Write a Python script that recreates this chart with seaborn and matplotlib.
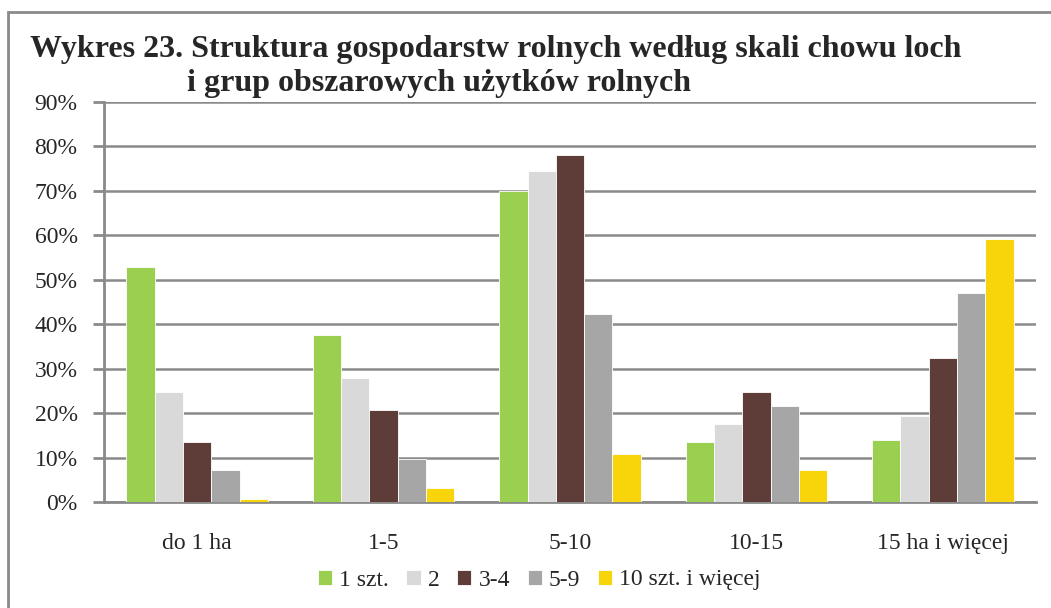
import pandas as pd
import matplotlib.pyplot as plt
import seaborn as sns
from matplotlib.patches import Rectangle
from matplotlib.ticker import FuncFormatter

# dane (udzial gospodarstw w %)
grupy = ["do 1 ha", "1-5", "5-10", "10-15", "15 ha i więcej"]
skala_chowu = ["1 szt.", "2", "3-4", "5-9", "10 szt. i więcej"]
szt_1 = [52.8, 37.6, 70.0, 13.5, 14.0]
szt_2 = [24.7, 27.8, 74.4, 17.5, 19.4]
szt_3_4 = [13.5, 20.6, 78.0, 24.7, 32.4]
szt_5_9 = [7.3, 9.6, 42.2, 21.7, 47.1]
szt_10 = [0.6, 3.2, 10.9, 7.3, 59.2]
kolory = ["#9BCF50", "#D9D9D9", "#5E3C38", "#A6A6A6", "#F7D50A"]

wartosci = [szt_1, szt_2, szt_3_4, szt_5_9, szt_10]
df = pd.DataFrame(
    [(g, s, v) for s, vals in zip(skala_chowu, wartosci) for g, v in zip(grupy, vals)],
    columns=["grupa", "chow", "udzial"],
)

sns.set_style("white")
plt.rcParams["font.family"] = ["Liberation Serif", "DejaVu Serif"]

fig = plt.figure(figsize=(10.51, 6.08), dpi=100)
ax = fig.add_axes([104 / 1051, 106 / 608, 932 / 1051, 400 / 608])

sns.barplot(data=df, x="grupa", y="udzial", hue="chow", order=grupy,
            hue_order=skala_chowu, palette=kolory, saturation=1, width=0.76,
            edgecolor="white", linewidth=0.6, ax=ax, zorder=3)

ax.set_ylim(0, 90)
ax.set_xlim(-0.5, len(grupy) - 0.5)
ax.set_yticks(range(0, 91, 10))
ax.yaxis.set_major_formatter(FuncFormatter(lambda v, _: f"{int(v)}%"))
ax.yaxis.grid(True, color="#8a8a8a", linewidth=1.8, zorder=0)
ax.set_axisbelow(True)
ax.set_xlabel("")
ax.set_ylabel("")

for s in ["top", "right"]:
    ax.spines[s].set_visible(False)
for s in ["left", "bottom"]:
    ax.spines[s].set_color("#8a8a8a")
    ax.spines[s].set_linewidth(2)

# podzialki osi X na granicach grup
ax.set_xticks([i - 0.5 for i in range(len(grupy) + 1)], minor=True)
ax.set_xticks(range(len(grupy)))
ax.set_xticklabels(grupy)
ax.tick_params(axis="x", which="major", length=0, pad=22, labelsize=17)
ax.tick_params(axis="x", which="minor", length=8, width=2, color="#8a8a8a", direction="out")
ax.tick_params(axis="y", length=8, width=2, color="#8a8a8a", direction="out", pad=11, labelsize=17, left=True)

ax.legend(loc="center", bbox_to_anchor=(0.467, -0.195), ncol=5, frameon=False,
          fontsize=17, handlelength=0.6, handleheight=0.6, handletextpad=0.3,
          columnspacing=0.75, borderaxespad=0)

fig.text(30 / 1051, 1 - 57 / 608, "Wykres 23. Struktura gospodarstw rolnych według skali chowu loch",
         fontsize=23, fontweight="bold", va="baseline", ha="left")
fig.text(187 / 1051, 1 - 91 / 608, "i grup obszarowych użytków rolnych",
         fontsize=23, fontweight="bold", va="baseline", ha="left")

# ramka wokol wykresu
fig.add_artist(Rectangle((8 / 1051, -0.1), 1.2, 1 - 12 / 608 + 0.1, transform=fig.transFigure,
                         fill=False, edgecolor="#8a8a8a", linewidth=2))

fig.savefig("out.png", dpi=100)
